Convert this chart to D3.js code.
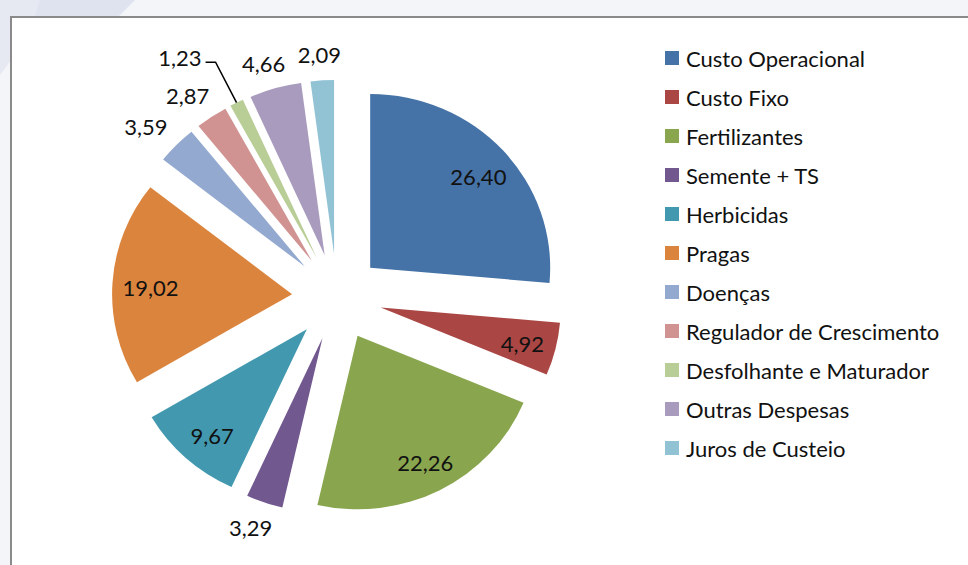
<!DOCTYPE html>
<html><head><meta charset="utf-8">
<script src="https://cdn.jsdelivr.net/npm/d3@7"></script>
<style>body{margin:0;background:#fff;overflow:hidden}</style></head>
<body>
<svg id="chart" width="968" height="565"></svg>
<script>
// ---- data ----
const categories = ["Custo Operacional","Custo Fixo","Fertilizantes","Semente + TS","Herbicidas","Pragas","Doenças","Regulador de Crescimento","Desfolhante e Maturador","Outras Despesas","Juros de Custeio"];
const values = [26.40, 4.92, 22.26, 3.29, 9.67, 19.02, 3.59, 2.87, 1.23, 4.66, 2.09];
const colors = ["#4572A7","#AA4643","#89A54E","#71588F","#4198AF","#DB843D","#93A9CF","#D19392","#B9CD96","#A99BBD","#92C3D5"];

// ---- layout ----
const W = 968, H = 565;
const cx = 337, cy = 297, r = 180, sy = 0.965, explode = 45;
const insideMin = 4.8, leaderMax = 2;
const font = "Lato, 'Open Sans', sans-serif";

const svg = d3.select("#chart");
const ptBr = d3.formatLocale({decimal: ",", thousands: ".", grouping: [3], currency: ["R$", ""]});
const fmt = ptBr.format(".2f");

// background + frame
svg.append("rect").attr("width", W).attr("height", H).attr("fill", "#f4f5f9");
svg.append("path").attr("d", "M0,0 L14,0 L0,20 Z M40,0 L135,0 L118,17 L35,17 L0,70 L0,30 Z").attr("fill", "#dfe3ef");
svg.append("path").attr("d", "M0,0 L14,0 L40,0 L35,17 L11,17 L11,60 L0,75 Z").attr("fill", "#e6e9f2");
svg.append("rect").attr("x", 11).attr("y", 17).attr("width", W + 20).attr("height", H + 20)
  .attr("fill", "#ffffff").attr("stroke", "#8a8a8a").attr("stroke-width", 2);

const pie = d3.pie().sort(null).value(d => d);
const arcs = pie(values);
const arc = d3.arc().innerRadius(0).outerRadius(r);
const mid = d => (d.startAngle + d.endAngle) / 2;
const pt = (a, R) => [cx + R * Math.sin(a), cy - R * Math.cos(a) * sy];

const g = svg.append("g").attr("transform", `translate(${cx},${cy}) scale(1,${sy})`);
g.selectAll("path").data(arcs).join("path")
  .attr("d", arc)
  .attr("fill", (d, i) => colors[i])
  .attr("transform", d => `translate(${explode * Math.sin(mid(d))},${-explode * Math.cos(mid(d))})`);

// labels
const labels = svg.append("g").attr("font-family", font).attr("font-size", 22).attr("fill", "#111");
arcs.forEach((d, i) => {
  const a = mid(d);
  const v = values[i];
  if (v >= insideMin) {
    const [x, y] = pt(a, explode + r * 0.8);
    labels.append("text").attr("x", x + 2).attr("y", y + 3).attr("text-anchor", "middle")
      .attr("dominant-baseline", "central").text(fmt(v));
  } else if (v < leaderMax) {
    const p0 = pt(a, explode + r);
    const p1 = pt(a, 272);
    const p2 = [p1[0] - 10, p1[1]];
    svg.append("polyline").attr("points", [p0, p1, p2].map(p => p.join(",")).join(" "))
      .attr("fill", "none").attr("stroke", "#000").attr("stroke-width", 1.5);
    labels.append("text").attr("x", p2[0] - 4).attr("y", p2[1] - 5).attr("text-anchor", "end")
      .attr("dominant-baseline", "central").text(fmt(v));
  } else {
    const [x, y] = pt(a, 252);
    labels.append("text").attr("x", x + 16 * Math.sin(a)).attr("y", y).attr("text-anchor", "middle")
      .attr("dominant-baseline", "central").text(fmt(v));
  }
});

// legend
const legend = svg.append("g").attr("transform", "translate(665,58)");
const rows = legend.selectAll("g").data(categories).join("g")
  .attr("transform", (d, i) => `translate(0,${i * 39})`);
rows.append("rect").attr("x", 0).attr("y", -7).attr("width", 14).attr("height", 14)
  .attr("fill", (d, i) => colors[i]);
rows.append("text").attr("x", 21).attr("y", 0).attr("dominant-baseline", "central")
  .attr("font-family", font).attr("font-size", 22).attr("fill", "#111").text(d => d);
</script>
</body></html>
